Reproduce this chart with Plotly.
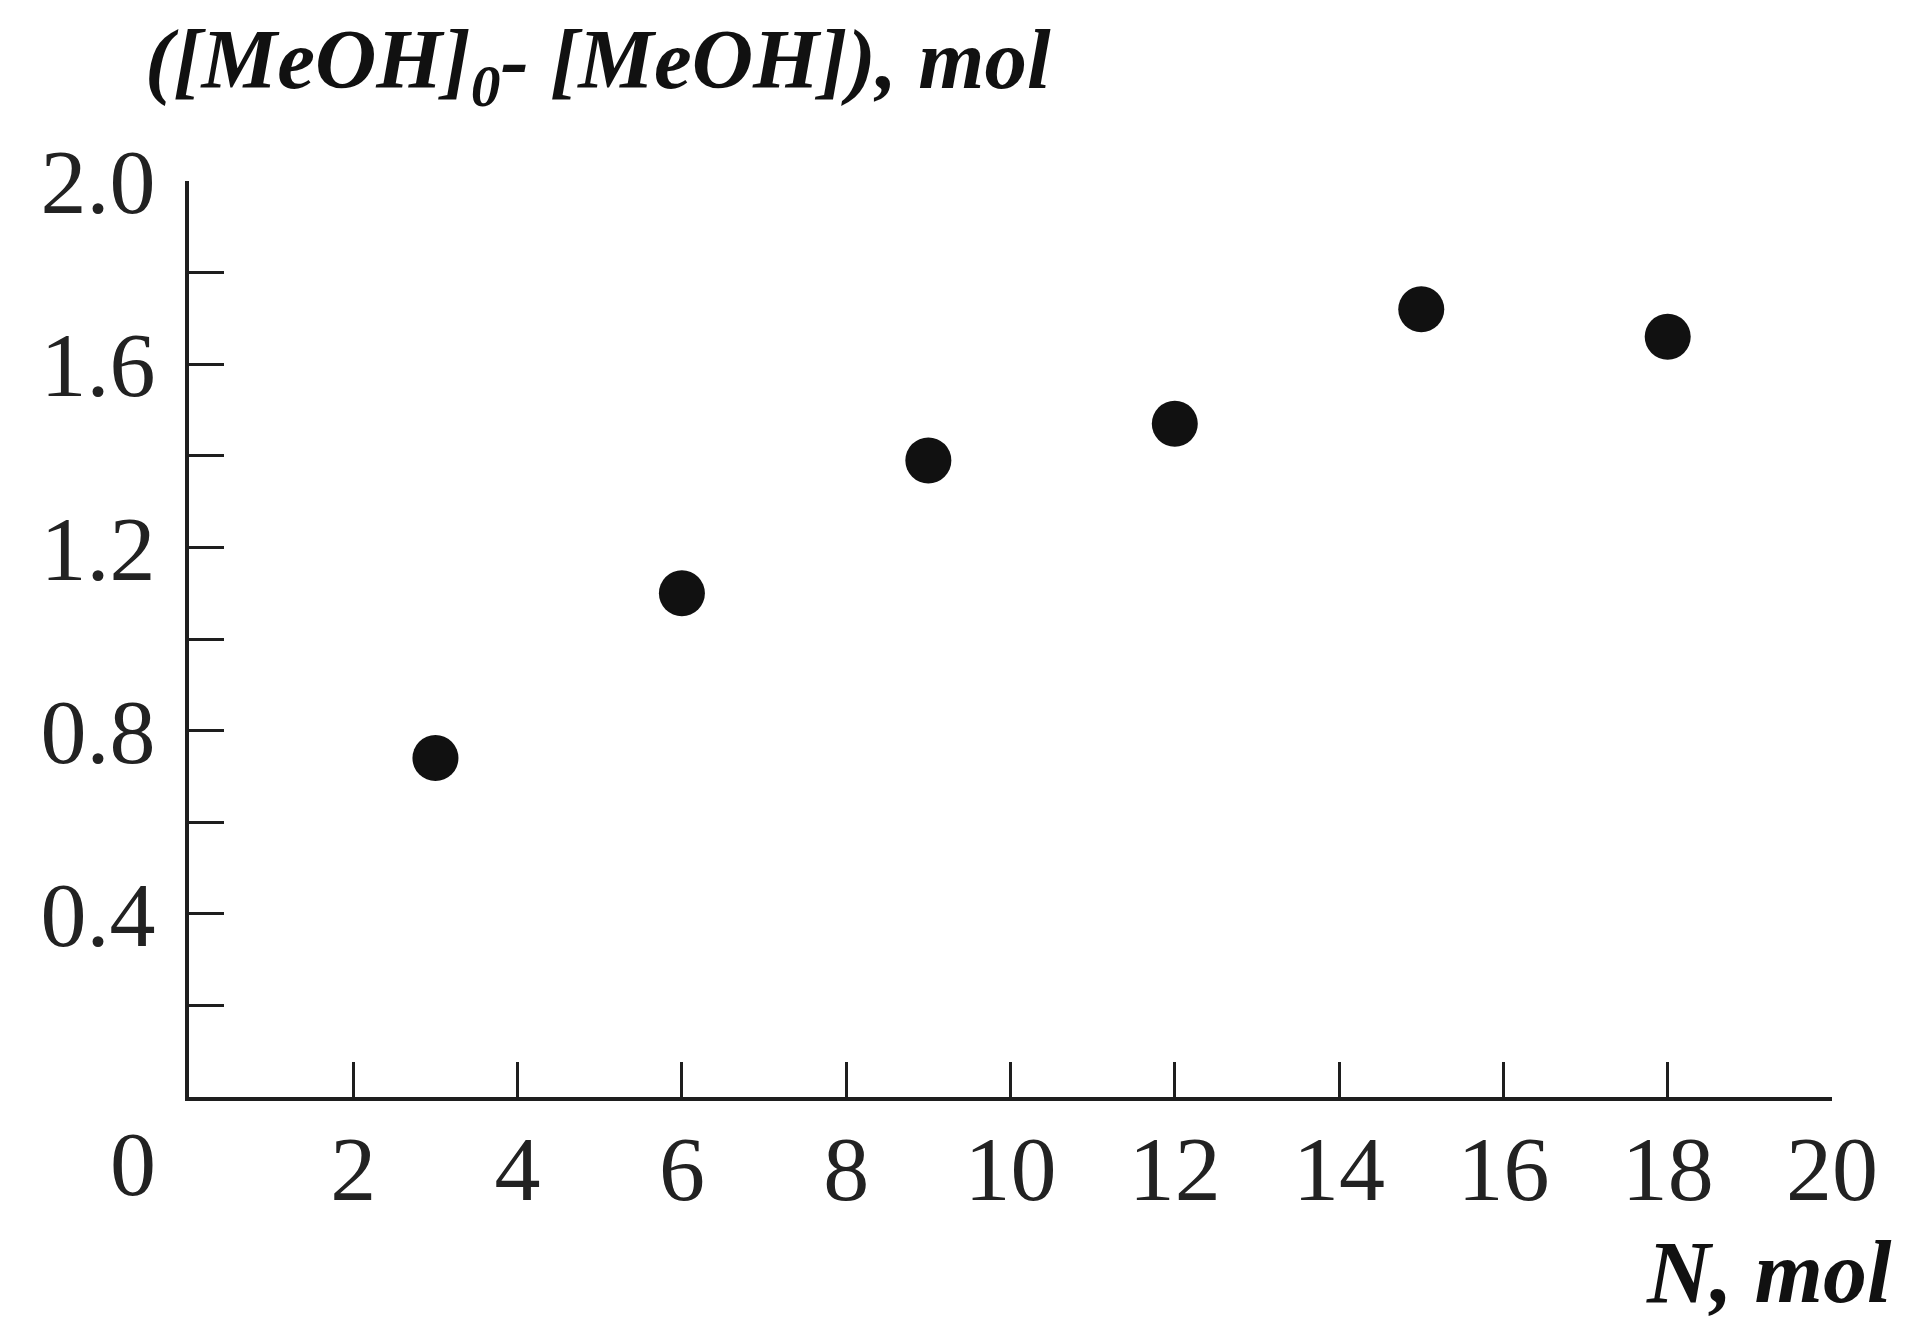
"""Scatter plot: methanol consumed vs N."""

import plotly.graph_objs as go

# data
n_mol = [3, 6, 9, 12, 15, 18]
meoh_consumed = [0.74, 1.10, 1.39, 1.47, 1.72, 1.66]

x_tickvals = [2, 4, 6, 8, 10, 12, 14, 16, 18, 20]
x_ticktext = ["2", "4", "6", "8", "10", "12", "14", "16", "18", "20"]
y_tickvals = [0.2, 0.4, 0.6, 0.8, 1.0, 1.2, 1.4, 1.6, 1.8, 2.0]
y_ticktext = ["", "0.4", "", "0.8", "", "1.2", "", "1.6", "", "2.0"]

ink = "#1e1e1e"
serif = "Liberation Serif, Times New Roman, serif"

trace = go.Scatter(
    x=n_mol,
    y=meoh_consumed,
    mode="markers",
    marker=dict(size=46, color="#111111"),
    showlegend=False,
)

axis_common = dict(
    showline=True,
    linecolor=ink,
    linewidth=4,
    ticks="inside",
    ticklen=35,
    tickwidth=3,
    tickcolor=ink,
    showgrid=False,
    zeroline=False,
    tickfont=dict(family=serif, size=92, color="#222222"),
)

layout = dict(
    width=1917,
    height=1341,
    autosize=False,
    paper_bgcolor="white",
    plot_bgcolor="white",
    margin=dict(l=181, r=93, t=173, b=252),
    xaxis=dict(
        range=[0, 20],
        tickvals=x_tickvals,
        ticktext=x_ticktext,
        ticklabelstandoff=-11,
        **axis_common
    ),
    yaxis=dict(
        range=[0, 2.0],
        tickvals=y_tickvals,
        ticktext=y_ticktext,
        ticklabelstandoff=11,
        **axis_common
    ),
    annotations=[
        # origin label sits left of the corner
        dict(x=0, y=0, xref="x", yref="y", text="0", showarrow=False,
             xshift=-56, yshift=-14, yanchor="top",
             font=dict(family=serif, size=92, color="#222222")),
        dict(x=-0.028, y=1.065, xref="paper", yref="paper", xanchor="left",
             yanchor="bottom", showarrow=False,
             text="<b><i>([MeOH]<sub>0</sub>- [MeOH]), mol</i></b>",
             font=dict(family=serif, size=85, color="#111111")),
        dict(x=1.038, y=-0.247, xref="paper", yref="paper", xanchor="right",
             yanchor="bottom", showarrow=False,
             text="<b><i>N, mol</i></b>",
             font=dict(family=serif, size=88, color="#111111")),
    ],
)

fig = go.Figure(data=[trace], layout=layout)
fig.write_html("out.html")
